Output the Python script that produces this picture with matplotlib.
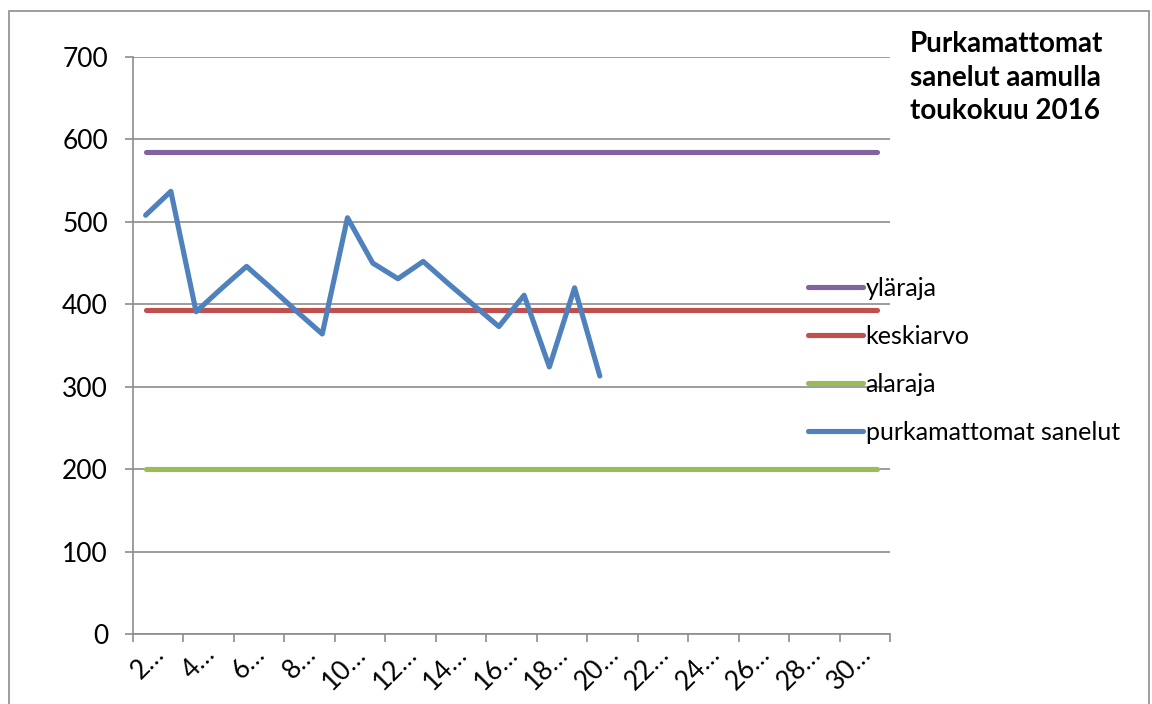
import numpy as np
import matplotlib.pyplot as plt
from matplotlib.patches import Rectangle
from matplotlib.transforms import ScaledTranslation

plt.rcParams['font.family'] = ['Lato', 'DejaVu Sans']

# päivät 2.-31.5.2016
days = list(range(2, 32))
sanelut = [508, 537, 391, 419, 446, 419, 391, 364, 505, 450, 431, 452,
           425, 399, 373, 411, 324, 420, 313]
ylaraja = 585
keskiarvo = 393
alaraja = 200

n = len(days)
x = np.arange(n)
y = np.full(n, np.nan)
y[:len(sanelut)] = sanelut

fig = plt.figure(figsize=(11.52, 7.04), dpi=100)
ax = fig.add_axes([133 / 1152, 1 - 634 / 704, 757 / 1152, 577 / 704])

# kaavion reunus
fig.patches.append(Rectangle((9 / 1152, -0.05), 1140 / 1152, 1.05 - 11 / 704,
                             transform=fig.transFigure, fill=False,
                             edgecolor='#8c8c8c', linewidth=1.2))

kw = dict(linewidth=3.7, solid_capstyle='round', solid_joinstyle='round')
ax.plot(x, np.full(n, ylaraja), color='#8064A2', label='yläraja', **kw)
ax.plot(x, np.full(n, keskiarvo), color='#C0504D', label='keskiarvo', **kw)
ax.plot(x, np.full(n, alaraja), color='#9BBB59', label='alaraja', **kw)
ax.plot(x, y, color='#4F81BD', label='purkamattomat sanelut', **kw)

ax.set_xlim(-0.5, n - 0.5)
ax.set_ylim(0, 700)
ax.set_yticks(range(0, 701, 100))
ax.grid(axis='y', color='#8c8c8c', linewidth=1.2)
ax.set_axisbelow(True)
for s in ['top', 'right']:
    ax.spines[s].set_visible(False)
for s in ['left', 'bottom']:
    ax.spines[s].set_color('#8c8c8c')
    ax.spines[s].set_linewidth(1.2)

ax.tick_params(axis='y', length=6, width=1.2, color='#8c8c8c', pad=12,
               labelsize=19)
ax.set_xticks(np.arange(-0.5, n, 2))
ax.set_xticklabels([])
ax.tick_params(axis='x', length=6, width=1.2, color='#8c8c8c')

# päivämäärätunnisteet joka toisesta päivästä
off = ScaledTranslation(15 / 100, -16 / 100, fig.dpi_scale_trans)
for i in range(0, n, 2):
    ax.text(i, 0, f'{days[i]}\u2026', rotation=45, rotation_mode='anchor',
            ha='right', va='center', fontsize=19,
            transform=ax.get_xaxis_transform() + off)

ax.legend(loc='upper left', bbox_to_anchor=(808 / 1152, 1 - 277 / 704),
          bbox_transform=fig.transFigure, frameon=False, fontsize=18,
          handlelength=2.2, handletextpad=0.1, labelspacing=1.0,
          borderaxespad=0, borderpad=0)

fig.text(910 / 1152, 1 - 31 / 704,
         'Purkamattomat\nsanelut aamulla\ntoukokuu 2016',
         fontsize=20, fontweight='bold', ha='left', va='top', linespacing=1.36)

fig.savefig('out.png', dpi=100)
